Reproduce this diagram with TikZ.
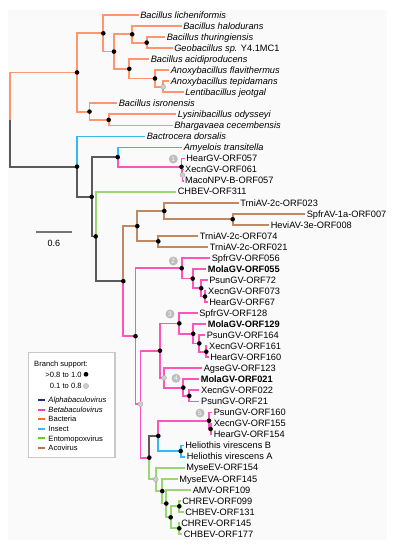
\documentclass[tikz,border=0pt]{standalone}
\usepackage{fontspec}
\setmainfont{Liberation Sans}
\definecolor{cbac}{HTML}{FF9670}
\definecolor{cins}{HTML}{33BBF0}
\definecolor{cbeta}{HTML}{FF55BB}
\definecolor{cento}{HTML}{9AD672}
\definecolor{caco}{HTML}{C08865}
\definecolor{cgr}{HTML}{5A5A5A}
\definecolor{lalpha}{HTML}{26268C}
\definecolor{lbac}{HTML}{FF6A33}
\definecolor{lins}{HTML}{33BBEE}
\definecolor{lbeta}{HTML}{FF3FAF}
\definecolor{lento}{HTML}{66CC22}
\definecolor{laco}{HTML}{B8734F}
\definecolor{gdot}{HTML}{CDCDCD}
\definecolor{badgegray}{HTML}{BDBDBD}
\definecolor{boxgray}{HTML}{C8C8C8}
\definecolor{txt}{HTML}{1A1A1A}
\begin{document}
\begin{tikzpicture}[x=1pt,y=-1pt,
  br/.style={line width=1.8pt},
  lf/.style={anchor=west, inner xsep=1.6pt, inner ysep=0pt, text height=6.7pt, text depth=0pt, font=\fontsize{9.25}{10}\selectfont},
  bd/.style={circle, fill=black, inner sep=0pt, minimum size=4.6pt},
  gd/.style={circle, fill=gdot, draw=black!35, line width=0.3pt, inner sep=0pt, minimum size=5pt},
  badge/.style={circle, fill=badgegray, inner sep=0pt, minimum size=9pt, font=\fontsize{6.5}{7}\selectfont, text=white},
  lg/.style={anchor=west, inner sep=0pt, text height=5.5pt, text depth=0pt, font=\fontsize{7.6}{9}\selectfont},
  sw/.style={line width=2pt}]
\useasboundingbox (0,0) rectangle (399,550);
\fill[black!2] (8,10) rectangle (387,540);

% ---------- internal node positions ----------
\coordinate (root) at (10,119.52);
\coordinate (nbac) at (77,72.44);
\coordinate (nb1) at (103.3,33.29);
\coordinate (nb2) at (114,51.57);
\coordinate (nb3) at (132.2,34.32);
\coordinate (nb4) at (146.7,42.6);
\coordinate (nb7) at (129.3,68.82);
\coordinate (nb5) at (155,78.48);
\coordinate (nb6) at (163.2,86.76);
\coordinate (nb8) at (89.5,111.6);
\coordinate (nb9) at (108.7,119.88);
\coordinate (nins) at (77,166.6);
\coordinate (nA) at (91.7,196.77);
\coordinate (nam) at (117.7,157.14);
\coordinate (ng1) at (181.5,166.8);
\coordinate (ng2) at (182.5,175.08);
\coordinate (nB) at (95.7,236.4);
\coordinate (nC) at (123.3,281.17);
\coordinate (naE) at (137.3,226.14);
\coordinate (naF) at (164.3,210.96);
\coordinate (naG) at (232.7,219.24);
\coordinate (naH) at (158.3,241.32);
\coordinate (nD) at (135.5,336.2);
\coordinate (nI) at (181.7,268.23);
\coordinate (nS) at (192.7,278.58);
\coordinate (nT) at (201.2,288.24);
\coordinate (nU) at (205,296.52);
\coordinate (nJ) at (140.5,404.17);
\coordinate (nK) at (160,350.69);
\coordinate (nL) at (179.3,323.43);
\coordinate (nM) at (193.2,333.78);
\coordinate (nN) at (199.3,343.44);
\coordinate (nO) at (206.3,351.72);
\coordinate (nP) at (164,377.94);
\coordinate (nQ) at (183.3,387.6);
\coordinate (nR) at (189.3,395.88);
\coordinate (nV) at (149.3,457.64);
\coordinate (nW) at (158.3,435.9);
\coordinate (nX) at (209,420.72);
\coordinate (nY) at (210.6,429);
\coordinate (nZ) at (180.7,451.08);
\coordinate (nAA) at (155.7,479.37);
\coordinate (nBB) at (162.3,491.1);
\coordinate (nCC) at (166.3,503.52);
\coordinate (nDD) at (170.7,517.32);
\coordinate (nEE) at (179.3,506.28);
\coordinate (nFF) at (179.3,528.36);

% ---------- leaf tips ----------
\coordinate (t1) at (138.5,15);
\coordinate (t2) at (181.5,26.04);
\coordinate (t3) at (165,37.08);
\coordinate (t4) at (172.5,48.12);
\coordinate (t5) at (149,59.16);
\coordinate (t6) at (169,70.2);
\coordinate (t7) at (169,81.24);
\coordinate (t8) at (183.5,92.28);
\coordinate (t9) at (117,103.32);
\coordinate (t10) at (176,114.36);
\coordinate (t11) at (172.5,125.4);
\coordinate (t12) at (145,136.44);
\coordinate (t13) at (182,147.48);
\coordinate (t14) at (184.5,158.52);
\coordinate (t15) at (183.3,169.56);
\coordinate (t16) at (183.3,180.6);
\coordinate (t17) at (176,191.64);
\coordinate (t18) at (238.5,202.68);
\coordinate (t19) at (305,213.72);
\coordinate (t20) at (269,224.76);
\coordinate (t21) at (198,235.8);
\coordinate (t22) at (208,246.84);
\coordinate (t23) at (210,257.88);
\coordinate (t24) at (206,268.92);
\coordinate (t25) at (207.5,279.96);
\coordinate (t26) at (206.3,291);
\coordinate (t27) at (207.5,302.04);
\coordinate (t28) at (197.5,313.08);
\coordinate (t29) at (206,324.12);
\coordinate (t30) at (205,335.16);
\coordinate (t31) at (207.3,346.2);
\coordinate (t32) at (208.5,357.24);
\coordinate (t33) at (202,368.28);
\coordinate (t34) at (199,379.32);
\coordinate (t35) at (199.3,390.36);
\coordinate (t36) at (199.3,401.4);
\coordinate (t37) at (212,412.44);
\coordinate (t38) at (212,423.48);
\coordinate (t39) at (212,434.52);
\coordinate (t40) at (183.5,445.56);
\coordinate (t41) at (185,456.6);
\coordinate (t42) at (184.5,467.64);
\coordinate (t43) at (177.5,478.68);
\coordinate (t44) at (191,489.72);
\coordinate (t45) at (180.5,500.76);
\coordinate (t46) at (183.5,511.8);
\coordinate (t47) at (179.5,522.84);
\coordinate (t48) at (182,533.88);

% ---------- branches ----------
\draw[br,cbac] (root) |- (nbac) (nbac) |- (nb1) (nbac) |- (nb8)
  (nb1) |- (t1) (nb1) |- (nb2) (nb2) |- (nb3) (nb2) |- (nb7)
  (nb3) |- (t2) (nb3) |- (nb4) (nb4) |- (t3) (nb4) |- (t4)
  (nb7) |- (t5) (nb7) |- (nb5) (nb5) |- (t6) (nb5) |- (nb6)
  (nb6) |- (t7) (nb6) |- (t8)
  (nb8) |- (t9) (nb8) |- (nb9) (nb9) |- (t10) (nb9) |- (t11);
\draw[br,cgr] (root) |- (nins) (nins) |- (nA) (nA) |- (nam) (nA) |- (nB)
  (nB) |- (nC) (nV) |- (nW);
\draw[br,cins] (nins) |- (t12) (nam) |- (t13) (nW) |- (nZ)
  (nZ) |- (t40) (nZ) |- (t41);
\draw[br,cbeta] (nam) |- (ng1) (ng1) |- (t14) (ng1) |- (ng2)
  (ng2) |- (t15) (ng2) |- (t16)
  (nC) |- (nD) (nD) |- (nI) (nD) |- (nJ)
  (nI) |- (t23) (nI) |- (nS) (nS) |- (t24) (nS) |- (nT)
  (nT) |- (t25) (nT) |- (nU) (nU) |- (t26) (nU) |- (t27)
  (nJ) |- (nK) (nJ) |- (nV) (nK) |- (nL) (nK) |- (nP)
  (nL) |- (t28) (nL) |- (nM) (nM) |- (t29) (nM) |- (nN)
  (nN) |- (t30) (nN) |- (nO) (nO) |- (t31) (nO) |- (t32)
  (nP) |- (t33) (nP) |- (nQ) (nQ) |- (t34) (nQ) |- (nR)
  (nR) |- (t35) (nR) |- (t36)
  (nW) |- (nX) (nX) |- (t37) (nX) |- (nY) (nY) |- (t38) (nY) |- (t39);
\draw[br,cento] (nB) |- (t17)
  (nV) |- (nAA) (nAA) |- (t42) (nAA) |- (nBB) (nBB) |- (t43)
  (nBB) |- (nCC) (nCC) |- (t44) (nCC) |- (nDD) (nDD) |- (nEE) (nDD) |- (nFF)
  (nEE) |- (t45) (nEE) |- (t46) (nFF) |- (t47) (nFF) |- (t48);
\draw[br,caco] (nC) |- (naE) (naE) |- (naF) (naE) |- (naH)
  (naF) |- (t18) (naF) |- (naG) (naG) |- (t19) (naG) |- (t20)
  (naH) |- (t21) (naH) |- (t22);

% ---------- support dots ----------
\foreach \n in {nbac,nb1,nb2,nb3,nb4,nb7,nb5,nb8,nb9,nins,nA,nam,ng1,nB,nC,naE,naF,naG,naH,nD,nI,nS,nT,nU,nK,nL,nM,nN,nO,nQ,nR,nV,nW,nX,nY,nZ,nBB,nCC,nDD,nEE,nFF}
  \node[bd] (d\n) at (\n) {};
\foreach \n in {nb6,ng2,nJ,nP,nAA}
  \node[gd] (d\n) at (\n) {};

% ---------- leaves ----------
\node[lf] (l1) at (t1) {\itshape Bacillus licheniformis};
\node[lf] (l2) at (t2) {\itshape Bacillus halodurans};
\node[lf] (l3) at (t3) {\itshape Bacillus thuringiensis};
\node[lf] (l4) at (t4) {{\itshape Geobacillus sp.} Y4.1MC1};
\node[lf] (l5) at (t5) {\itshape Bacillus acidiproducens};
\node[lf] (l6) at (t6) {\itshape Anoxybacillus flavithermus};
\node[lf] (l7) at (t7) {\itshape Anoxybacillus tepidamans};
\node[lf] (l8) at (t8) {\itshape Lentibacillus jeotgal};
\node[lf] (l9) at (t9) {\itshape Bacillus isronensis};
\node[lf] (l10) at (t10) {\itshape Lysinibacillus odysseyi};
\node[lf] (l11) at (t11) {\itshape Bhargavaea cecembensis};
\node[lf] (l12) at (t12) {\itshape Bactrocera dorsalis};
\node[lf] (l13) at (t13) {\itshape Amyelois transitella};
\node[lf] (l14) at (t14) {HearGV-ORF057};
\node[lf] (l15) at (t15) {XecnGV-ORF061};
\node[lf] (l16) at (t16) {MacoNPV-B-ORF057};
\node[lf] (l17) at (t17) {CHBEV-ORF311};
\node[lf] (l18) at (t18) {TrniAV-2c-ORF023};
\node[lf] (l19) at (t19) {SpfrAV-1a-ORF007};
\node[lf] (l20) at (t20) {HeviAV-3e-ORF008};
\node[lf] (l21) at (t21) {TrniAV-2c-ORF074};
\node[lf] (l22) at (t22) {TrniAV-2c-ORF021};
\node[lf] (l23) at (t23) {SpfrGV-ORF056};
\node[lf] (l24) at (t24) {\bfseries MolaGV-ORF055};
\node[lf] (l25) at (t25) {PsunGV-ORF72};
\node[lf] (l26) at (t26) {XecnGV-ORF073};
\node[lf] (l27) at (t27) {HearGV-ORF67};
\node[lf] (l28) at (t28) {SpfrGV-ORF128};
\node[lf] (l29) at (t29) {\bfseries MolaGV-ORF129};
\node[lf] (l30) at (t30) {PsunGV-ORF164};
\node[lf] (l31) at (t31) {XecnGV-ORF161};
\node[lf] (l32) at (t32) {HearGV-ORF160};
\node[lf] (l33) at (t33) {AgseGV-ORF123};
\node[lf] (l34) at (t34) {\bfseries MolaGV-ORF021};
\node[lf] (l35) at (t35) {XecnGV-ORF022};
\node[lf] (l36) at (t36) {PsunGV-ORF21};
\node[lf] (l37) at (t37) {PsunGV-ORF160};
\node[lf] (l38) at (t38) {XecnGV-ORF155};
\node[lf] (l39) at (t39) {HearGV-ORF154};
\node[lf] (l40) at (t40) {Heliothis virescens B};
\node[lf] (l41) at (t41) {Heliothis virescens A};
\node[lf] (l42) at (t42) {MyseEV-ORF154};
\node[lf] (l43) at (t43) {MyseEVA-ORF145};
\node[lf] (l44) at (t44) {AMV-ORF109};
\node[lf] (l45) at (t45) {CHREV-ORF099};
\node[lf] (l46) at (t46) {CHBEV-ORF131};
\node[lf] (l47) at (t47) {CHREV-ORF145};
\node[lf] (l48) at (t48) {CHBEV-ORF177};

% ---------- clade badges ----------
\node[badge] (b1) at (173.3,159) {1};
\node[badge] (b2) at (173.3,261) {2};
\node[badge] (b3) at (170,314) {3};
\node[badge] (b4) at (176,378.3) {4};
\node[badge] (b5) at (200,413) {5};

% ---------- scale bar ----------
\coordinate (sb1) at (36,231.7);
\coordinate (sb2) at (71.7,231.7);
\draw[line width=1.8pt, black!55] (sb1) -- (sb2);
\node[font=\fontsize{9}{10}\selectfont, inner sep=0pt] (sblab) at (53.8,243.3) {0.6};

% ---------- legend ----------
\draw[boxgray, line width=1.4pt, fill=white] (28.3,352.3) rectangle (115,457.3);
\draw[sw,lalpha] (38.3,400) -- (45,400);
\draw[sw,lbeta] (38.3,409.6) -- (45,409.6);
\draw[sw,lbac] (38.3,419.2) -- (45,419.2);
\draw[sw,lins] (38.3,428.8) -- (45,428.8);
\draw[sw,lento] (38.3,438.3) -- (45,438.3);
\draw[sw,laco] (38.3,447.8) -- (45,447.8);
\node[bd, minimum size=4.8pt] (lgd1) at (86,374.3) {};
\node[gd, minimum size=5.2pt] (lgd2) at (86,386) {};
\node[lg] (lgt) at (34,364) {Branch support:};
\node[lg, anchor=east] (lgh) at (81.8,374.3) {>0.8 to 1.0};
\node[lg, anchor=east] (lgl) at (81.8,386) {0.1 to 0.8};
\node[lg] (lg1) at (48.3,400) {\itshape Alphabaculovirus};
\node[lg] (lg2) at (48.3,409.6) {\itshape Betabaculovirus};
\node[lg] (lg3) at (48.3,419.2) {Bacteria};
\node[lg] (lg4) at (48.3,428.8) {Insect};
\node[lg] (lg5) at (48.3,438.3) {Entomopoxvirus};
\node[lg] (lg6) at (48.3,447.8) {Acovirus};
\end{tikzpicture}
\end{document}
